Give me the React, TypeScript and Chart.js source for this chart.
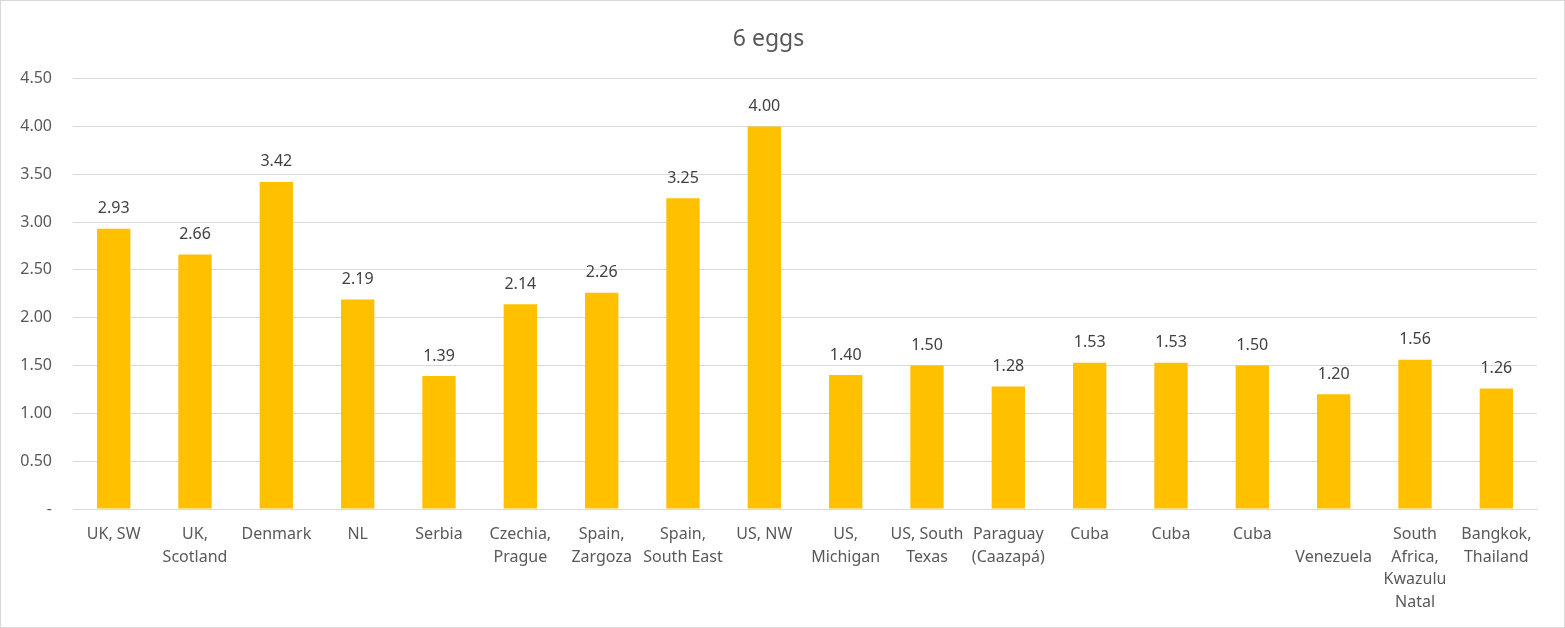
import React, { useEffect, useRef } from "react";
import { Chart, registerables } from "chart.js";

Chart.register(...registerables);

const categories: (string | string[])[] = [
  "UK, SW",
  ["UK,", "Scotland"],
  "Denmark",
  "NL",
  "Serbia",
  ["Czechia,", "Prague"],
  ["Spain,", "Zargoza"],
  ["Spain,", "South East"],
  "US, NW",
  ["US,", "Michigan"],
  ["US, South", "Texas"],
  ["Paraguay", "(Caazapá)"],
  "Cuba",
  "Cuba",
  "Cuba",
  ["", "Venezuela"],
  ["South", "Africa,", "Kwazulu", "Natal"],
  ["Bangkok,", "Thailand"],
];

const prices: number[] = [
  2.93, 2.66, 3.42, 2.19, 1.39, 2.14, 2.26, 3.25, 4.0, 1.4, 1.5, 1.28, 1.53, 1.53,
  1.5, 1.2, 1.56, 1.26,
];

const chartTitle = "6 eggs";
const yMin = 0;
const yMax = 4.5;
const yStep = 0.5;

const FONT = "'Noto Sans', 'Open Sans', sans-serif";

const dataLabelPlugin = {
  id: "dataLabels",
  afterDatasetsDraw(chart: any) {
    const ctx = chart.ctx;
    const meta = chart.getDatasetMeta(0);
    ctx.save();
    ctx.font = `16px ${FONT}`;
    ctx.fillStyle = "#404040";
    ctx.textAlign = "center";
    ctx.textBaseline = "middle";
    meta.data.forEach((bar: any, i: number) => {
      const v = chart.data.datasets[0].data[i] as number;
      ctx.fillText(v.toFixed(2), bar.x, bar.y - 20);
    });
    ctx.restore();
  },
};

const framePlugin = {
  id: "frame",
  beforeDraw(chart: any) {
    const ctx = chart.ctx;
    ctx.save();
    ctx.fillStyle = "#ffffff";
    ctx.fillRect(0, 0, chart.width, chart.height);
    ctx.restore();
  },
  afterDraw(chart: any) {
    const ctx = chart.ctx;
    ctx.save();
    ctx.strokeStyle = "#d9d9d9";
    ctx.lineWidth = 1;
    ctx.strokeRect(0.5, 0.5, chart.width - 1, chart.height - 1);
    ctx.restore();
  },
};

export default function App() {
  const canvasRef = useRef<HTMLCanvasElement | null>(null);

  useEffect(() => {
    if (!canvasRef.current) return;
    const chart = new Chart(canvasRef.current, {
      type: "bar",
      data: {
        labels: categories,
        datasets: [
          {
            data: prices,
            backgroundColor: "#FFC000",
            barPercentage: 1,
            categoryPercentage: 0.41,
          },
        ],
      },
      options: {
        animation: false,
        responsive: false,
        maintainAspectRatio: false,
        layout: { padding: { left: 0, right: 28, top: 0, bottom: 0 } },
        plugins: {
          legend: { display: false },
          tooltip: { enabled: false },
          title: {
            display: true,
            text: chartTitle,
            color: "#595959",
            font: { family: FONT, size: 23, weight: "normal", lineHeight: 1.2 },
            padding: { top: 26, bottom: 25 },
          },
        },
        scales: {
          x: {
            grid: { display: false, drawTicks: false },
            border: { color: "#d9d9d9", width: 1 },
            ticks: {
              color: "#595959",
              font: { family: FONT, size: 16, lineHeight: 1.42 },
              padding: 14,
              maxRotation: 0,
              autoSkip: false,
            },
            afterFit: (s: any) => {
              s.height = 119;
            },
          },
          y: {
            min: yMin,
            max: yMax,
            grid: { color: "#d9d9d9", drawTicks: false },
            border: { display: false },
            ticks: {
              stepSize: yStep,
              color: "#595959",
              font: { family: FONT, size: 16 },
              padding: 21,
              callback: (v: any) => (Number(v) === 0 ? "-" : Number(v).toFixed(2)),
            },
            afterFit: (s: any) => {
              s.width = 73;
            },
          },
        },
      },
      plugins: [dataLabelPlugin, framePlugin],
    });
    return () => chart.destroy();
  }, []);

  return (
    <div style={{ position: "fixed", left: 0, top: 0, width: 1565, height: 628 }}>
      <canvas ref={canvasRef} width={1565} height={628} style={{ width: 1565, height: 628 }} />
    </div>
  );
}
